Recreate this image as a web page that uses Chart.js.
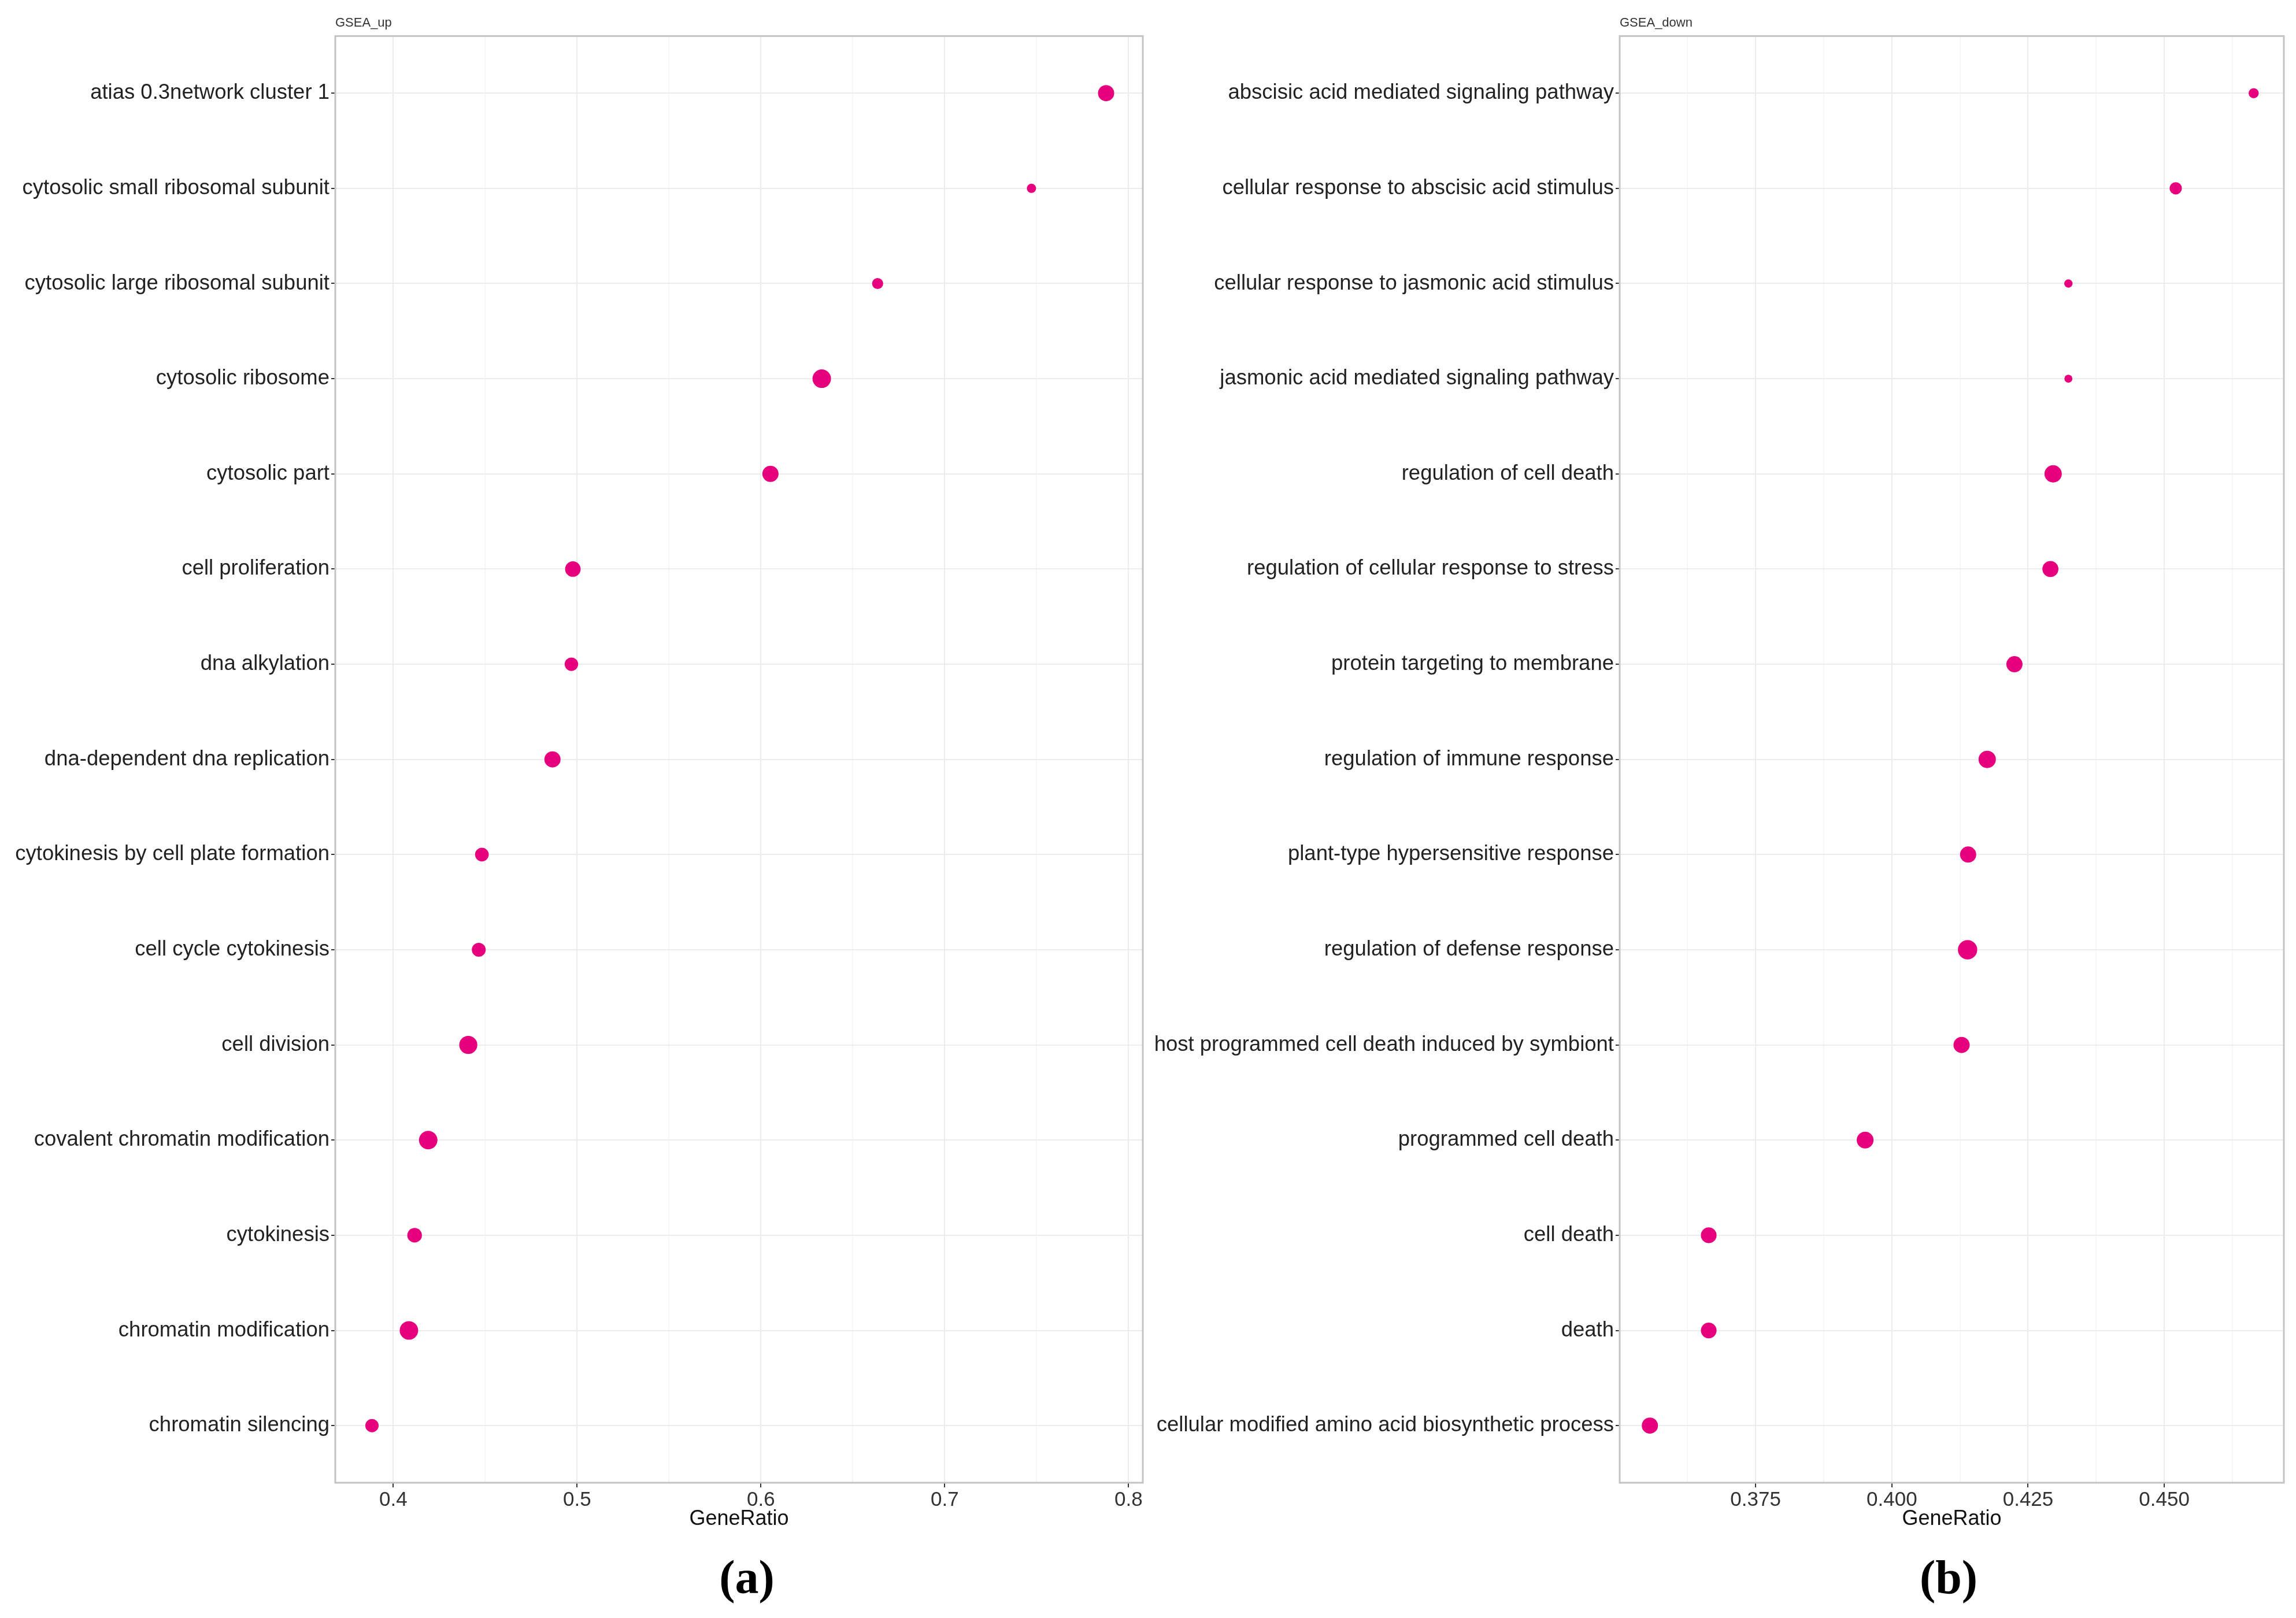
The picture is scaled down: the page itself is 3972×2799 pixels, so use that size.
<!DOCTYPE html>
<html>
<head>
<meta charset="utf-8">
<script src="https://cdn.jsdelivr.net/npm/chart.js@4.4.0/dist/chart.umd.min.js"></script>
<style>
  html, body { margin: 0; padding: 0; background: #fff; }
  body { width: 3972px; height: 2799px; position: relative; overflow: hidden; }
  canvas { position: absolute; top: 0; }
  #chartUp { left: 0; }
  #chartDown { left: 1990px; }
  .caption {
    position: absolute; width: 300px; text-align: center; top: 2688px;
    font-family: "Liberation Serif", serif; font-weight: bold; font-size: 82px;
    line-height: 1; color: #000;
  }
</style>
</head>
<body>
<canvas id="chartUp" width="1993" height="2664"></canvas>
<canvas id="chartDown" width="1982" height="2664"></canvas>
<div class="caption" style="left:1142px">(a)</div>
<div class="caption" style="left:3221px">(b)</div>
<script>
// GSEA_up terms, top to bottom
var upTerms = [
  'atias 0.3network cluster 1',
  'cytosolic small ribosomal subunit',
  'cytosolic large ribosomal subunit',
  'cytosolic ribosome',
  'cytosolic part',
  'cell proliferation',
  'dna alkylation',
  'dna-dependent dna replication',
  'cytokinesis by cell plate formation',
  'cell cycle cytokinesis',
  'cell division',
  'covalent chromatin modification',
  'cytokinesis',
  'chromatin modification',
  'chromatin silencing'
];
var upRatio = [0.7878, 0.7472, 0.6635, 0.6331, 0.6052, 0.4977, 0.4969, 0.4866,
               0.4482, 0.4465, 0.4408, 0.4190, 0.4116, 0.4085, 0.3884];
var upCount = [49, 16, 23, 64, 49, 45, 34, 49, 35, 36, 61, 64, 40, 64, 33];
var upTicks = ['0.4', '0.5', '0.6', '0.7', '0.8'];

// GSEA_down terms, top to bottom
var downTerms = [
  'abscisic acid mediated signaling pathway',
  'cellular response to abscisic acid stimulus',
  'cellular response to jasmonic acid stimulus',
  'jasmonic acid mediated signaling pathway',
  'regulation of cell death',
  'regulation of cellular response to stress',
  'protein targeting to membrane',
  'regulation of immune response',
  'plant-type hypersensitive response',
  'regulation of defense response',
  'host programmed cell death induced by symbiont',
  'programmed cell death',
  'cell death',
  'death',
  'cellular modified amino acid biosynthetic process'
];
var downRatio = [0.4664, 0.4521, 0.4324, 0.4324, 0.4296, 0.4291, 0.4225, 0.4175,
                 0.4140, 0.4139, 0.4128, 0.3951, 0.3664, 0.3664, 0.3556];
var downCount = [19, 28, 13, 12, 56, 48, 49, 56, 49, 70, 49, 53, 46, 46, 49];
var downTicks = ['0.375', '0.400', '0.425', '0.450'];

var sans = 'Liberation Sans';
var dotColor = '#E6007E';

// panel border like theme_bw
var framePlugin = {
  id: 'frame',
  beforeDatasetsDraw: function(chart) {
    var a = chart.chartArea, ctx = chart.ctx;
    ctx.save();
    ctx.strokeStyle = '#c4c4c4';
    ctx.lineWidth = 3;
    ctx.strokeRect(a.left, a.top, a.right - a.left, a.bottom - a.top);
    ctx.restore();
  }
};

function makeChart(id, title, terms, ratio, count, tickLabels, yWidth, padRight) {
  var lo = Math.min.apply(null, ratio), hi = Math.max.apply(null, ratio);
  var pad = (hi - lo) * 0.05;
  var xMin = lo - pad, xMax = hi + pad;

  var major = tickLabels.map(Number);
  var step = major[1] - major[0];
  var xTicks = [];
  major.forEach(function(v, i) {
    xTicks.push({value: v, lab: tickLabels[i], isMajor: true});
  });
  [major[0] - step / 2].concat(major.map(function(v) { return v + step / 2; })).forEach(function(v) {
    if (v > xMin && v < xMax) xTicks.push({value: v, lab: '', isMajor: false});
  });
  xTicks.sort(function(a, b) { return a.value - b.value; });

  var points = terms.map(function(t, i) { return {x: ratio[i], y: i}; });
  var radii = count.map(function(c) { return 2 * Math.sqrt(c); });

  return new Chart(document.getElementById(id), {
    type: 'scatter',
    data: {
      datasets: [{
        data: points,
        backgroundColor: dotColor,
        borderWidth: 0,
        pointRadius: radii,
        pointHoverRadius: radii
      }]
    },
    options: {
      responsive: false,
      animation: false,
      devicePixelRatio: 1,
      layout: { padding: { left: 0, right: padRight, top: 0, bottom: 14 } },
      plugins: {
        legend: { display: false },
        tooltip: { enabled: false },
        title: {
          display: true, text: title, align: 'start', fullSize: false, color: '#333',
          font: { family: sans, size: 22, weight: 'normal' },
          padding: { top: 27, bottom: 9 }
        }
      },
      scales: {
        x: {
          type: 'linear', min: xMin, max: xMax, bounds: 'data',
          afterBuildTicks: function(axis) {
            axis.ticks = xTicks.map(function(t) { return Object.assign({}, t); });
          },
          afterFit: function(axis) { axis.height = 85; },
          ticks: {
            autoSkip: false, maxRotation: 0, padding: 1, color: '#333',
            font: { family: sans, size: 35 },
            callback: function(v, i, ticks) { return ticks[i].lab; }
          },
          grid: {
            color: function(c) { return c.tick && c.tick.isMajor ? '#ececec' : '#f6f6f6'; },
            lineWidth: 2,
            tickLength: 8, tickWidth: 2,
            tickColor: function(c) { return c.tick && c.tick.isMajor ? '#333' : 'rgba(0,0,0,0)'; }
          },
          border: { display: false },
          title: {
            display: true, text: 'GeneRatio', color: '#111',
            font: { family: sans, size: 36 }, padding: 0
          }
        },
        y: {
          type: 'linear', reverse: true, min: -0.6, max: terms.length - 0.4, bounds: 'data',
          afterBuildTicks: function(axis) {
            axis.ticks = terms.map(function(t, i) { return {value: i, lab: t}; });
          },
          afterFit: function(axis) { axis.width = yWidth; },
          ticks: {
            autoSkip: false, padding: 3, color: '#222',
            font: { family: sans, size: 36.5 },
            callback: function(v, i, ticks) { return ticks[i].lab; }
          },
          grid: { color: '#ececec', lineWidth: 2, tickLength: 7, tickWidth: 2, tickColor: '#333' },
          border: { display: false }
        }
      }
    },
    plugins: [framePlugin]
  });
}

makeChart('chartUp', 'GSEA_up', upTerms, upRatio, upCount, upTicks, 580, 14);
makeChart('chartDown', 'GSEA_down', downTerms, downRatio, downCount, downTicks, 812, 21);
</script>
</body>
</html>
